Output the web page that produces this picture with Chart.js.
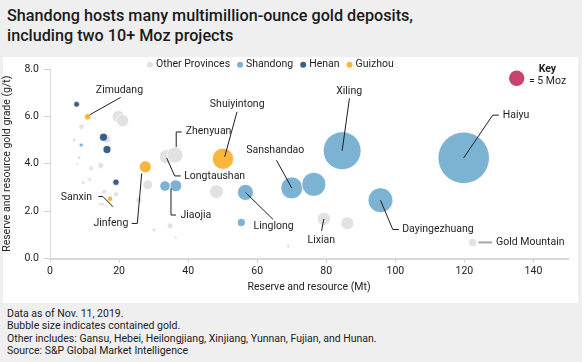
<!DOCTYPE html>
<html><head><meta charset="utf-8">
<script src="https://cdn.jsdelivr.net/npm/chart.js@4"></script>
<style>
html,body{margin:0;padding:0;background:#efefef;width:582px;height:362px;overflow:hidden;font-family:Roboto,sans-serif;}
#title{position:absolute;left:7px;top:6px;font-size:16.2px;font-weight:500;line-height:19.5px;color:#1a1a1a;white-space:nowrap;}
#panel{position:absolute;left:3px;top:57px;width:575px;height:246px;background:#fff;}
#c{position:absolute;left:0;top:57px;}
#foot{position:absolute;left:7px;top:308px;font-size:10.5px;line-height:12.4px;color:#222;white-space:nowrap;}
</style></head><body>
<div id="title">Shandong hosts many multimillion-ounce gold deposits,<br>including two 10+ Moz projects</div>
<div id="panel"></div>
<canvas id="c" width="582" height="246"></canvas>
<div id="foot">Data as of Nov. 11, 2019.<br>Bubble size indicates contained gold.<br>Other includes: Gansu, Hebei, Heilongjiang, Xinjiang, Yunnan, Fujian, and Hunan.<br>Source: S&amp;P Global Market Intelligence</div>
<script>
// ---- data (x: reserve & resource Mt, y: grade g/t, moz: contained gold Moz) ----
const seriesNames = ['Other Provinces', 'Shandong', 'Henan', 'Guizhou'];

const otherX   = [19.8, 21.0, 9.1, 7.0, 16.4, 8.4, 7.9, 11.9, 14.7, 9.6, 11.5, 15.7, 19.1, 14.5, 15.2, 18.1, 25.7, 28.3, 33.7, 36.2, 48.2, 34.8, 30.1, 36.4, 79.3, 86.1, 69.0, 122.4];
const otherY   = [5.99, 5.82, 5.56, 5.00, 5.04, 4.25, 3.98, 3.81, 3.93, 3.20, 3.34, 2.82, 2.71, 2.29, 2.29, 2.19, 2.47, 3.11, 4.30, 4.37, 2.82, 1.38, 1.20, 0.89, 1.67, 1.49, 0.52, 0.68];
const otherMoz = [4.0, 4.0, 1.75, 1.3, 2.7, 1.3, 0.9, 1.6, 2.0, 1.2, 1.3, 1.6, 1.75, 1.2, 1.2, 1.0, 2.0, 3.2, 4.6, 5.2, 4.5, 1.9, 1.3, 1.0, 4.3, 4.2, 1.2, 2.6];

const shandongX   = [119.8, 84.6, 95.7, 70.0, 76.4, 56.6, 55.4, 36.4, 33.3, 9.0];
const shandongY   = [4.25, 4.55, 2.46, 2.98, 3.13, 2.79, 1.52, 3.07, 3.06, 4.79];
const shandongMoz = [16.7, 12.3, 8.1, 7.1, 7.8, 5.2, 2.6, 3.9, 3.4, 1.3];

const henanX   = [7.7, 15.5, 16.5, 19.1];
const henanY   = [6.51, 5.12, 4.60, 3.22];
const henanMoz = [1.9, 2.6, 2.6, 2.1];

const guizhouX   = [10.9, 50.1, 27.6, 17.4];
const guizhouY   = [5.98, 4.21, 3.87, 2.52];
const guizhouMoz = [2.1, 6.9, 3.9, 1.75];

const keyMoz = 5;
const xTicks = [0, 20, 40, 60, 80, 100, 120, 140];
const yTicks = [0, 2, 4, 6, 8];

// ---- styling ----
const FONT = 'Roboto';
const PX_PER_MOZ = 1.54;
const colors = ['#e2e2e2', '#7cb2d2', '#3c5e8b', '#f8b63d'];
const keyColor = '#c8436b';

function pts(xs, ys, mz) { return xs.map((x, i) => ({x: x, y: ys[i], r: mz[i] * PX_PER_MOZ})); }

const seriesData = [pts(otherX, otherY, otherMoz), pts(shandongX, shandongY, shandongMoz),
                    pts(henanX, henanY, henanMoz), pts(guizhouX, guizhouY, guizhouMoz)];

// annotations: dataset index, point index, text, text offset, alignment, leader path offsets (pixels from bubble centre)
const notes = [
  {ds: 3, i: 0, text: 'Zimudang', t: [31.8, -26.7], align: 'center', path: [[2, -2], [33, -19.4]]},
  {ds: 3, i: 3, text: 'Sanxin', t: [-18, -1.3], align: 'right', path: [[-11.7, -2.3], [-7.3, -2.3], [2.7, 7.7]]},
  {ds: 3, i: 2, text: 'Jinfeng', t: [-17, 56.6], align: 'right', path: [[-13.6, 56.6], [-8, 56.6], [-3.6, 6.6]]},
  {ds: 3, i: 1, text: 'Shuiyintong', t: [14.2, -54.4], align: 'center', path: [[14, -47], [1.7, -2]]},
  {ds: 0, i: 19, text: 'Zhenyuan', t: [10.7, -23.3], align: 'left', path: [[6.7, -23], [1.2, -23], [1.2, -8]]},
  {ds: 0, i: 18, text: 'Longtaushan', t: [17.8, 19.3], align: 'left', path: [[0.3, 1.3], [8.3, 19.3], [14.3, 19.3]]},
  {ds: 1, i: 8, text: 'Jiaojia', t: [15.5, 29.5], align: 'left', path: [[6, 2.3], [6, 29], [11, 29]]},
  {ds: 1, i: 3, text: 'Sanshandao', t: [-16.5, -37.7], align: 'center', path: [[-15.3, -27.7], [0, 0]]},
  {ds: 1, i: 5, text: 'Linglong', t: [28.1, 34.4], align: 'center', path: [[0, 0], [27.6, 27]]},
  {ds: 0, i: 24, text: 'Lixian', t: [-2.6, 21], align: 'center', path: [[0, 0], [-2.3, 12]]},
  {ds: 1, i: 1, text: 'Xiling', t: [7, -59.7], align: 'center', path: [[7.3, -52.4], [0, 0]]},
  {ds: 1, i: 0, text: 'Haiyu', t: [39, -42.7], align: 'left', path: [[35, -42.7], [29, -42.7], [0, 0]]},
  {ds: 1, i: 2, text: 'Dayingezhuang', t: [21.7, 29.3], align: 'left', path: [[0, 0], [12.3, 29.3], [18.3, 29.3]]},
  {ds: 0, i: 27, text: 'Gold Mountain', t: [23.4, 0], align: 'left', path: [[5.7, 0], [19.4, 0]], gray: true}
];

const overlay = {
  id: 'overlay',
  afterDatasetsDraw(chart) {
    const ctx = chart.ctx;
    const ca = chart.chartArea;
    ctx.save();
    ctx.font = '10.5px ' + FONT;
    ctx.textBaseline = 'middle';
    // leader lines + labels
    notes.forEach(n => {
      const el = chart.getDatasetMeta(n.ds).data[n.i];
      const cx = el.x, cy = el.y;
      ctx.beginPath();
      n.path.forEach((p, k) => { if (k === 0) ctx.moveTo(cx + p[0], cy + p[1]); else ctx.lineTo(cx + p[0], cy + p[1]); });
      ctx.strokeStyle = n.gray ? '#a6a6a6' : '#1e1e1e';
      ctx.lineWidth = n.gray ? 2 : 1;
      ctx.stroke();
      ctx.fillStyle = '#1e1e1e';
      ctx.textAlign = n.align;
      ctx.fillText(n.text, cx + n.t[0], cy + n.t[1]);
    });
    // legend
    let lx = 147;
    const ly = 7.7;
    chart.data.datasets.forEach((d, k) => {
      ctx.beginPath();
      ctx.arc(lx + 3, ly, 3, 0, Math.PI * 2);
      ctx.fillStyle = colors[k];
      ctx.fill();
      ctx.fillStyle = '#1e1e1e';
      ctx.textAlign = 'left';
      ctx.fillText(d.label, lx + 9, ly);
      lx += 9 + ctx.measureText(d.label).width + 7;
    });
    // key
    const kx = ca.right - 51.3, ky = ca.top + 9.3;
    ctx.beginPath();
    ctx.arc(kx, ky, keyMoz * PX_PER_MOZ, 0, Math.PI * 2);
    ctx.fillStyle = keyColor;
    ctx.fill();
    ctx.fillStyle = '#1e1e1e';
    ctx.textAlign = 'left';
    ctx.font = 'bold 10.5px ' + FONT;
    ctx.fillText('Key', ca.right - 29.3, ca.top + 0.3);
    ctx.font = '10.5px ' + FONT;
    ctx.fillText('= ' + keyMoz + ' Moz', ca.right - 39, ca.top + 12.7);
    ctx.restore();
  }
};

const orders = [4, 3, 2, 1];
new Chart(document.getElementById('c'), {
  type: 'bubble',
  data: {
    datasets: seriesNames.map((name, k) => ({
      label: name,
      data: seriesData[k],
      backgroundColor: colors[k],
      borderColor: '#ffffff',
      borderWidth: 0.8,
      order: orders[k],
      clip: false
    }))
  },
  options: {
    responsive: false,
    animation: false,
    events: [],
    layout: {autoPadding: false, padding: {left: 0, right: 14, top: 12, bottom: 0}},
    plugins: {legend: {display: false}, tooltip: {enabled: false}},
    scales: {
      x: {
        type: 'linear', min: 0, max: 150,
        afterBuildTicks: s => { s.ticks = xTicks.map(v => ({value: v})); },
        afterFit: s => { s.height = 44.5; },
        grid: {drawOnChartArea: false, drawTicks: true, tickLength: 4, color: '#d0d0d0'},
        border: {color: '#d9d9d9', width: 2},
        ticks: {color: '#222', font: {family: FONT, size: 10.5}, padding: 3, maxRotation: 0},
        title: {display: true, text: 'Reserve and resource (Mt)', color: '#222', font: {family: FONT, size: 10.5}, padding: {top: 0, bottom: 9.7}}
      },
      y: {
        type: 'linear', min: 0, max: 8,
        afterBuildTicks: s => { s.ticks = yTicks.map(v => ({value: v})); },
        afterFit: s => { s.width = 50; },
        grid: {drawOnChartArea: false, drawTicks: true, tickLength: 6, color: '#d0d0d0'},
        border: {color: '#d9d9d9', width: 1},
        ticks: {color: '#222', font: {family: FONT, size: 10.5}, padding: 5, callback: v => Number(v).toFixed(1)},
        title: {display: true, text: 'Reserve and resource gold grade (g/t)', color: '#222', font: {family: FONT, size: 10.5}, padding: {top: 0.7, bottom: 0}}
      }
    }
  },
  plugins: [overlay]
});
</script>
</body></html>
